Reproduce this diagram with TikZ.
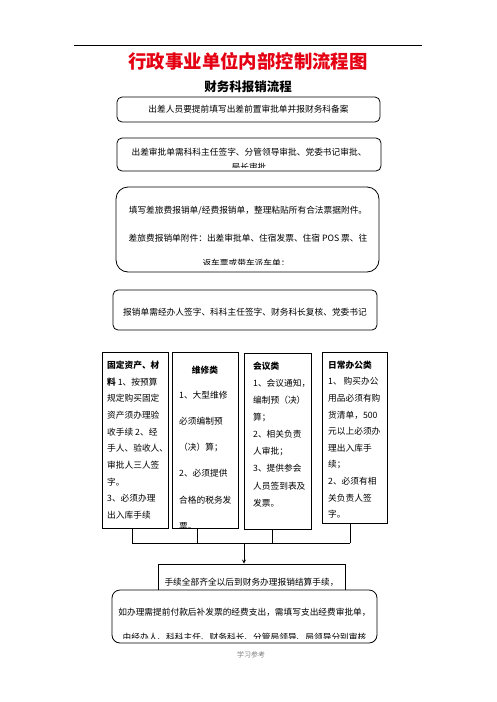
\documentclass[tikz,border=0pt]{standalone}
\usepackage{fontspec}
\usepackage{tikz}
\usepackage{xcolor}
\newfontfamily\cjk{Noto Sans CJK SC}
\definecolor{titlered}{RGB}{228,0,18}

\begin{document}
\begin{tikzpicture}[>=stealth, x=1pt, y=-1pt, font=\cjk\fontsize{8.7}{10}\selectfont]
	\tikzset{
		rbox/.style={draw, rounded corners=5pt, line width=0.8pt, inner sep=0pt},
		sbox/.style={draw, line width=0.8pt, inner sep=0pt},
		ltxt/.style={inner sep=0pt, anchor=base west},
		conn/.style={line width=0.8pt},
	}
	\useasboundingbox (0,0) rectangle (496,702);
	% header
	\coordinate (hl) at (74,45);
	\coordinate (hr) at (422,45);
	\draw[line width=1pt] (hl) -- (hr);
	\node[titlered, font=\cjk\bfseries\fontsize{18.4}{20}\selectfont] (title) at (248,61) {行政事业单位内部控制流程图};
	\node[font=\cjk\bfseries\fontsize{12.5}{14}\selectfont] (subtitle) at (248,87) {财务科报销流程};
	% top boxes
	\node[rbox, minimum width=263pt, minimum height=25pt] (b1) at (248.5,109.5) {};
	\node (b1t) at (248.5,109) {出差人员要提前填写出差前置审批单并报财务科备案};
	\begin{scope}
		\clip (117,138) rectangle (381,167);
		\node (b2t) at (249,152) {出差审批单需科科主任签字、分管领导审批、党委书记审批、};
		\node (b2u) at (249,167.5) {局长审批};
	\end{scope}
	\node[rbox, minimum width=264pt, minimum height=33pt] (b2) at (249,154.5) {};
	\begin{scope}
		\clip (116,187) rectangle (379,264);
		\node (b3t) at (248,211) {填写差旅费报销单/经费报销单，整理粘贴所有合法票据附件。};
		\node (b3u) at (248,238) {差旅费报销单附件：出差审批单、住宿发票、住宿 POS 票、往};
		\node (b3v) at (246,263.5) {返车票或带车派车单；};
	\end{scope}
	\node[rbox, rounded corners=12pt, minimum width=263pt, minimum height=85pt] (b3) at (247.5,229.5) {};
	\node[rbox, minimum width=264pt, minimum height=40pt] (b4) at (245,310) {};
	\node (b4t) at (245,312) {报销单需经办人签字、科科主任签字、财务科长复核、党委书记};
	% four columns
	\node[sbox, minimum width=66pt, minimum height=176pt] (c1) at (135,440) {};
	\node[sbox, minimum width=66pt, minimum height=176pt] (c2) at (205,440) {};
	\node[sbox, minimum width=67pt, minimum height=176pt] (c3) at (277.5,441) {};
	\node[sbox, minimum width=65pt, minimum height=171pt] (c4) at (354.5,437.5) {};
	\foreach \s [count=\i] in {{\bfseries 固定资产、材}, {\textbf{料} 1、按预算}, 规定购买固定, 资产须办理验, 收手续 2、经, 手人、验收人、, 审批人三人签, 字。, 3、必须办理, 出入库手续}{
		\node[ltxt] (c1l\i) at (107,{368.3+16.7*(\i-1)}) {\s};
	}
	\node[inner sep=0pt, anchor=base, font=\cjk\bfseries\fontsize{8.7}{10}\selectfont] (c2h) at (205,373.3) {维修类};
	\begin{scope}
		\clip (172,352) rectangle (238,527);
		\foreach \s [count=\i] in {1、大型维修, 必须编制预, （决）算；, 2、必须提供, 合格的税务发, 票。}{
			\node[ltxt] (c2l\i) at (179,{398.3+26.2*(\i-1)}) {\s};
		}
	\end{scope}
	\foreach \s [count=\i] in {{\bfseries 会议类}, 1、会议通知，, 编制预（决）, 算；, 2、相关负责, 人审批；, 3、提供参会, 人员签到表及, 发票。}{
		\node[ltxt] (c3l\i) at (253,{369.3+17.1*(\i-1)}) {\s};
	}
	\foreach \s [count=\i] in {{\bfseries 日常办公类}, 1、 购买办公, 用品必须有购, 货清单，500, 元以上必须办, 理出入库手, 续；, 2、必须有相, 关负责人签, 字。}{
		\node[ltxt] (c4l\i) at (328,{368.3+16.6*(\i-1)}) {\s};
	}
	% joining lines
	\coordinate (j1) at (132,543);
	\coordinate (j2) at (197,543);
	\coordinate (j3) at (272,543);
	\coordinate (j4) at (350,543);
	\coordinate (jm) at (244,543);
	\foreach \n in {1,...,4}{
		\draw[conn] (j\n |- c\n.south) -- (j\n);
	}
	\draw[conn] (j1) -- (j4);
	% bottom boxes
	\node[sbox, minimum width=187pt, minimum height=36pt] (b5) at (251.5,582) {};
	\node (b5t) at (251.5,582) {手续全部齐全以后到财务办理报销结算手续，};
	\draw[conn, ->] (jm) -- (jm |- b5.north);
	\node[rbox, rounded corners=8pt, fill=white, minimum width=265pt, minimum height=53pt] (b6) at (244.5,616.5) {};
	\begin{scope}
		\clip (112,590) rectangle (377,638);
		\node (b6t) at (244.5,612) {如办理需提前付款后补发票的经费支出，需填写支出经费审批单，};
		\node (b6u) at (244.5,637.5) {由经办人、科科主任、财务科长、分管局领导、局领导分别审核};
	\end{scope}
	\node[gray, font=\cjk\fontsize{7}{8}\selectfont] (foot) at (251,655) {学习参考};
\end{tikzpicture}
\end{document}
